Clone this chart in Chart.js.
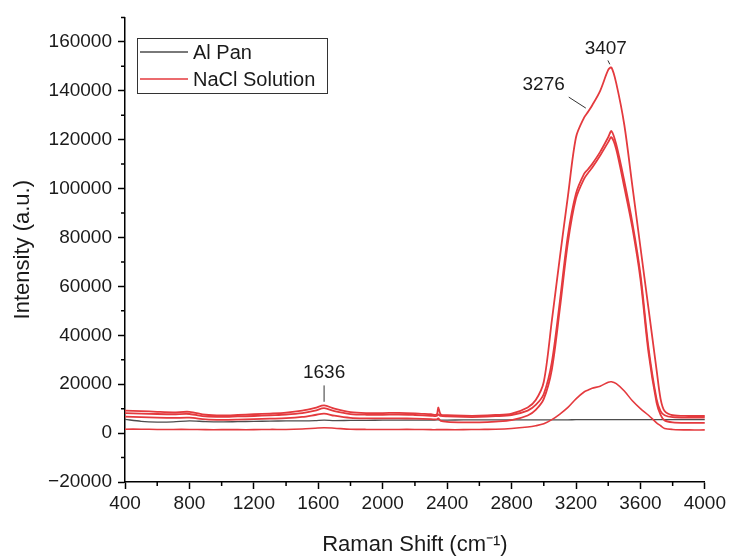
<!DOCTYPE html>
<html>
<head>
<meta charset="utf-8">
<script src="https://cdn.jsdelivr.net/npm/chart.js@4.4.1/dist/chart.umd.min.js"></script>
<style>
  html, body { margin: 0; padding: 0; background: #fff; }
  #wrap { width: 729px; height: 556px; }
</style>
</head>
<body>
<div id="wrap"><canvas id="myChart"></canvas></div>
<script>
// Raman shift (cm-1) sample positions
const shift = [400, 500, 600, 700, 800, 900, 1000, 1100, 1200, 1300, 1400, 1500, 1580, 1636, 1700,
  1800, 1900, 2000, 2100, 2200, 2300, 2335, 2345, 2360, 2400, 2500, 2600, 2700, 2800, 2900, 2950,
  3000, 3050, 3100, 3150, 3200, 3250, 3276, 3300, 3350, 3400, 3420, 3450, 3500, 3550, 3600, 3650,
  3700, 3725, 3750, 3800, 3900, 4000];

const alPan = [5600, 4800, 4500, 4600, 5000, 4700, 4600, 4700, 4800, 4900, 5000, 5000, 5100, 5300, 5100,
  5200, 5200, 5300, 5300, 5300, 5300, 5400, 5400, 5300, 5300, 5400, 5400, 5400, 5400, 5400, 5400,
  5400, 5400, 5400, 5400, 5500, 5500, 5500, 5500, 5500, 5500, 5500, 5500, 5500, 5500, 5500, 5500,
  5500, 5500, 5500, 5500, 5500, 5500];

// NaCl solution, several runs
const nacl1 = [9200, 9000, 8700, 8500, 8700, 7500, 7200, 7400, 7700, 8000, 8400, 9200, 10300, 11300, 10000,
  8600, 8200, 8200, 8300, 8100, 7700, 7600, 10500, 7600, 7300, 7100, 7100, 7400, 8000, 10500, 13500,
  21000, 46000, 72000, 97000, 121000, 129000, 131500, 134000, 140000, 148500, 149500, 143000, 126000, 101000, 76000, 51000,
  26000, 14000, 9000, 7300, 7000, 7000];

const nacl2 = [8200, 8000, 7800, 7700, 7800, 6800, 6600, 6800, 7000, 7300, 7600, 8200, 9200, 10200, 9000,
  7800, 7500, 7500, 7600, 7400, 7100, 7000, 7600, 7000, 6800, 6600, 6600, 6900, 7400, 9200, 11500,
  16000, 29000, 54000, 81000, 98000, 106000, 108000, 110000, 115000, 121000, 123500, 118000, 103000, 86000, 65000, 35000,
  14000, 9000, 7300, 6500, 6300, 6300];

const nacl3 = [6700, 6500, 6300, 6200, 6300, 5600, 5400, 5500, 5700, 5900, 6100, 6600, 7400, 8000, 7100,
  6200, 6000, 6000, 6000, 5900, 5700, 5600, 6000, 5000, 4600, 4400, 4400, 4700, 5300, 7200, 9500,
  14000, 26000, 51000, 78000, 96000, 104000, 106500, 108500, 113500, 119000, 121000, 116000, 100500, 84000, 63000, 33000,
  12500, 7500, 5200, 4400, 4200, 4200];

const nacl4 = [1600, 1600, 1500, 1500, 1500, 1400, 1400, 1400, 1400, 1500, 1500, 1700, 2000, 2200, 2000,
  1600, 1500, 1500, 1500, 1500, 1400, 1400, 1400, 1400, 1400, 1400, 1500, 1600, 1900, 2500, 3000,
  3800, 5500, 7800, 10500, 14000, 16800, 17600, 18300, 19200, 20800, 21000, 20200, 17200, 13200, 10000, 7300,
  4200, 3000, 1900, 1500, 1300, 1300];

const xTicks = [400, 800, 1200, 1600, 2000, 2400, 2800, 3200, 3600, 4000];
const yTicks = [-20000, 0, 20000, 40000, 60000, 80000, 100000, 120000, 140000, 160000];
const peakLabels = ['1636', '3276', '3407'];

const ctx = document.getElementById('myChart');
Chart.defaults.font.family = '"Liberation Sans", Arial, sans-serif';
Chart.defaults.color = '#1a1a1a';

const red = '#e43a3e';
const gray = '#4d4d4d';

function series(values) {
  return shift.map((x, i) => ({ x: x, y: values[i] }));
}

// minor ticks, peak labels and the boxed legend
const extras = {
  id: 'extras',
  afterDraw(chart) {
    const c = chart.ctx;
    const x = chart.scales.x, y = chart.scales.y;
    c.save();
    c.strokeStyle = '#000';
    c.lineWidth = 1.5;
    c.beginPath();
    for (let v = 600; v < 4000; v += 400) {
      const px = x.getPixelForValue(v);
      c.moveTo(px, y.bottom);
      c.lineTo(px, y.bottom + 4);
    }
    for (let v = -10000; v <= 170000; v += 20000) {
      const py = y.getPixelForValue(v);
      c.moveTo(x.left, py);
      c.lineTo(x.left - 4, py);
    }
    c.stroke();

    // peak annotations
    const notes = [
      { text: peakLabels[0], at: [1636, 24500], line: [[1636, 19500], [1636, 12800]] },
      { text: peakLabels[1], at: [2999, 142300], line: [[3155, 137400], [3261, 132900]] },
      { text: peakLabels[2], at: [3385, 157300], line: [[3398, 152400], [3410, 150800]] }
    ];
    c.font = '19px "Liberation Sans", Arial, sans-serif';
    c.fillStyle = '#1a1a1a';
    c.textAlign = 'center';
    c.textBaseline = 'middle';
    c.lineWidth = 1;
    c.strokeStyle = '#333';
    notes.forEach(n => {
      c.fillText(n.text, x.getPixelForValue(n.at[0]), y.getPixelForValue(n.at[1]));
      c.beginPath();
      c.moveTo(x.getPixelForValue(n.line[0][0]), y.getPixelForValue(n.line[0][1]));
      c.lineTo(x.getPixelForValue(n.line[1][0]), y.getPixelForValue(n.line[1][1]));
      c.stroke();
    });

    // legend
    const seen = [];
    chart.data.datasets.forEach(ds => {
      if (!seen.find(s => s.label === ds.label)) seen.push(ds);
    });
    c.strokeStyle = '#333';
    c.lineWidth = 1;
    c.strokeRect(137.5, 38.5, 190, 55);
    c.font = '20px "Liberation Sans", Arial, sans-serif';
    c.textAlign = 'left';
    seen.forEach((ds, i) => {
      const ly = 52 + i * 27;
      c.strokeStyle = ds.borderColor;
      c.lineWidth = 1.5;
      c.beginPath();
      c.moveTo(140, ly);
      c.lineTo(188, ly);
      c.stroke();
      c.fillText(ds.label, 193, ly + 1);
    });
    c.restore();
  }
};

const myChart = new Chart(ctx, {
  type: 'line',
  data: {
    datasets: [
      { label: 'Al Pan', data: series(alPan), borderColor: gray, borderWidth: 1.4, order: 1 },
      { label: 'NaCl Solution', data: series(nacl1), borderColor: red, borderWidth: 1.8, order: 0 },
      { label: 'NaCl Solution', data: series(nacl2), borderColor: red, borderWidth: 1.8, order: 0 },
      { label: 'NaCl Solution', data: series(nacl3), borderColor: red, borderWidth: 1.8, order: 0 },
      { label: 'NaCl Solution', data: series(nacl4), borderColor: red, borderWidth: 1.6, order: 0 }
    ]
  },
  options: {
    responsive: true,
    maintainAspectRatio: false,
    animation: false,
    layout: { padding: { top: 14, right: 24, left: 0, bottom: 0 } },
    elements: { point: { radius: 0 }, line: { tension: 0.3 } },
    plugins: {
      legend: { display: false },
      tooltip: { enabled: false }
    },
    scales: {
      x: {
        type: 'linear',
        min: 400,
        max: 4000,
        afterBuildTicks: (scale) => { scale.ticks = xTicks.map(v => ({ value: v })); },
        afterFit: (scale) => { scale.height = 74; },
        ticks: { font: { size: 19 }, padding: 3, maxRotation: 0, callback: (v) => String(v) },
        grid: { drawOnChartArea: false, tickLength: 7, tickColor: '#000', tickWidth: 1.5 },
        border: { display: true, color: '#000', width: 1.5 },
        title: { display: true, text: 'Raman Shift (cm\u207B\u00B9)', font: { size: 22, lineHeight: 1 }, padding: 0 }
      },
      y: {
        min: -20000,
        max: 170000,
        ticks: { font: { size: 19 }, padding: 6,
          callback: (v) => v < 0 ? '\u2212' + Math.abs(v) : String(v) },
        afterBuildTicks: (scale) => { scale.ticks = yTicks.map(v => ({ value: v })); },
        afterFit: (scale) => { scale.width = 125; },
        grid: { drawOnChartArea: false, tickLength: 7, tickColor: '#000', tickWidth: 1.5 },
        border: { display: true, color: '#000', width: 1.5 },
        title: { display: true, text: 'Intensity (a.u.)', font: { size: 22 }, padding: { top: 10, bottom: 0 } }
      }
    }
  },
  plugins: [extras]
});
</script>
</body>
</html>
